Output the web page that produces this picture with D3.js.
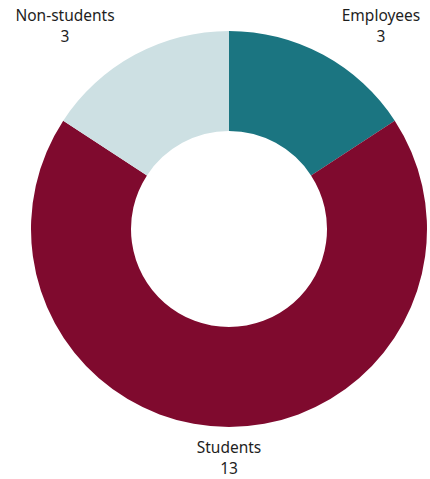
<!DOCTYPE html>
<meta charset="utf-8">
<title>Donut</title>
<style>
body { margin: 0; background: #fff; }
text { font-family: "Noto Sans", sans-serif; font-size: 15.5px; fill: #1e1e1e; }
</style>
<svg width="430" height="479"></svg>
<script src="https://cdn.jsdelivr.net/npm/d3@7"></script>
<script>

// data
var categories = ["Employees", "Students", "Non-students"];
var values = [3, 13, 3];
var colors = ["#1b7581", "#7f0a2e", "#cde0e3"];

var svg = d3.select("svg"),
    cx = 229, cy = 229,
    outer = 198, inner = 98;

var pie = d3.pie().sort(null).value(function(d) { return d.value; });
var arc = d3.arc().innerRadius(inner).outerRadius(outer);

var data = categories.map(function(c, i) { return { name: c, value: values[i], color: colors[i] }; });

var g = svg.append("g").attr("transform", "translate(" + cx + "," + cy + ")");

g.selectAll("path")
  .data(pie(data))
  .enter().append("path")
    .attr("d", arc)
    .attr("fill", function(d) { return d.data.color; });

// label spots (relative to centre) - corners for the small slices, bottom for big one
var labelPos = [[152, -208], [0, 224], [-164, -208]];

var lab = g.selectAll("g.lab")
  .data(pie(data))
  .enter().append("g")
    .attr("class", "lab")
    .attr("transform", function(d, i) { return "translate(" + labelPos[i][0] + "," + labelPos[i][1] + ")"; });

lab.append("text")
    .attr("text-anchor", "middle")
    .text(function(d) { return d.data.name; });

lab.append("text")
    .attr("text-anchor", "middle")
    .attr("y", 21)
    .text(function(d) { return d.data.value; });

</script>
